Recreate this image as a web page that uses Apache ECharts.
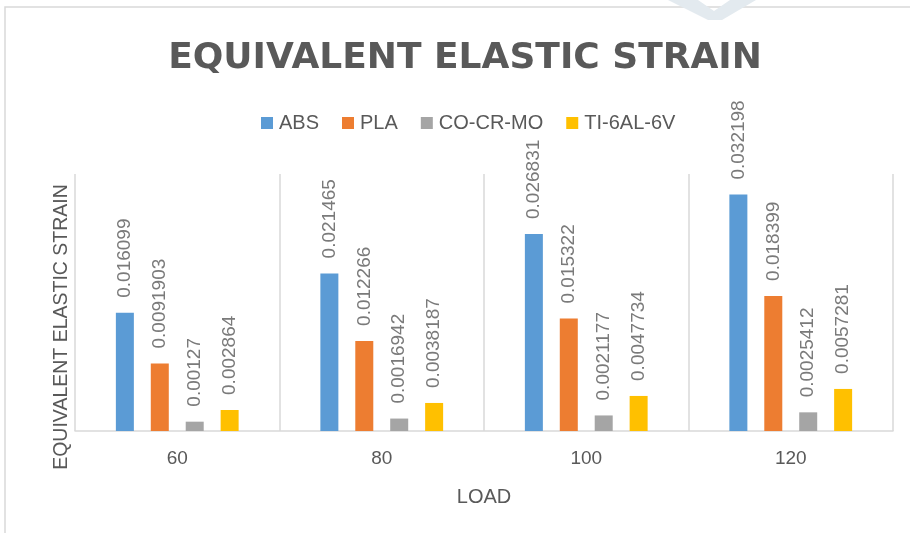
<!DOCTYPE html>
<html>
<head>
<meta charset="utf-8">
<title>Equivalent Elastic Strain</title>
<script src="https://cdn.jsdelivr.net/npm/echarts@6/dist/echarts.min.js"></script>
<style>
  html, body { margin: 0; padding: 0; background: #ffffff; }
  #chart { width: 910px; height: 533px; }
</style>
</head>
<body>
<div id="chart"></div>
<script>
// Load cases (x axis) and strain results per material
const loads = ['60', '80', '100', '120'];
const absStrain = [0.016099, 0.021465, 0.026831, 0.032198];
const plaStrain = [0.0091903, 0.012266, 0.015322, 0.018399];
const coCrMoStrain = [0.00127, 0.0016942, 0.0021177, 0.0025412];
const tiAlVStrain = [0.002864, 0.0038187, 0.0047734, 0.0057281];
const seriesNames = ['ABS', 'PLA', 'CO-CR-MO', 'TI-6AL-6V'];
const seriesColors = ['#5b9bd5', '#ed7d31', '#a5a5a5', '#ffc000'];

const textGray = '#595959';
const lineGray = '#d9d9d9';

const chart = echarts.init(document.getElementById('chart'));

function makeSeries(name, values, color) {
  return {
    name: name,
    type: 'bar',
    data: values,
    barWidth: 18,
    barGap: '94%',
    barCategoryGap: '40%',
    itemStyle: { color: color },
    label: {
      show: true,
      position: 'top',
      rotate: 90,
      align: 'left',
      verticalAlign: 'middle',
      distance: 15,
      color: '#7a7a7a',
      fontFamily: 'Liberation Sans',
      fontSize: 19,
      formatter: p => String(p.value)
    }
  };
}

chart.setOption({
  animation: false,
  backgroundColor: '#ffffff',
  title: {
    text: 'EQUIVALENT ELASTIC STRAIN',
    left: 460,
    top: 36,
    textAlign: 'center',
    textStyle: {
      color: textGray,
      fontFamily: 'DejaVu Sans',
      fontWeight: 'bold',
      fontSize: 36
    }
  },
  legend: {
    data: seriesNames,
    left: 256,
    top: 108,
    itemWidth: 12,
    itemHeight: 12,
    itemGap: 23,
    icon: 'rect',
    textStyle: {
      color: textGray,
      fontFamily: 'Liberation Sans',
      fontSize: 20,
      padding: [0, 0, 0, 1]
    }
  },
  grid: {
    left: 75,
    right: 17,
    top: 174,
    bottom: 102,
    containLabel: false
  },
  xAxis: {
    type: 'category',
    data: loads,
    name: 'LOAD',
    nameLocation: 'middle',
    nameGap: 56,
    nameTextStyle: {
      color: textGray,
      fontFamily: 'Liberation Sans',
      fontSize: 20
    },
    axisLine: { show: true, lineStyle: { color: lineGray, width: 1.5 } },
    axisTick: { show: false },
    splitLine: { show: true, lineStyle: { color: lineGray, width: 1.5 } },
    axisLabel: {
      color: textGray,
      fontFamily: 'Liberation Sans',
      fontSize: 19,
      margin: 18
    }
  },
  yAxis: {
    type: 'value',
    min: 0,
    max: 0.035,
    axisLine: { show: false },
    axisTick: { show: false },
    axisLabel: { show: false },
    splitLine: { show: false }
  },
  graphic: [
    {
      type: 'polyline',
      silent: true,
      shape: { points: [[5, 533], [5, 7], [910, 7]] },
      style: { stroke: lineGray, lineWidth: 1.5, fill: null }
    },
    {
      type: 'polygon',
      silent: true,
      shape: { points: [[668, 0], [698, 0], [714, 11], [730, 0], [756, 0], [722, 20], [708, 20]] },
      style: { fill: '#e3eaef' }
    },
    {
      type: 'text',
      silent: true,
      x: 62,
      y: 327,
      rotation: Math.PI / 2,
      style: {
        text: 'EQUIVALENT ELASTIC STRAIN',
        fill: textGray,
        font: '19.5px "Liberation Sans"',
        textAlign: 'center',
        textVerticalAlign: 'middle'
      }
    }
  ],
  series: [
    makeSeries(seriesNames[0], absStrain, seriesColors[0]),
    makeSeries(seriesNames[1], plaStrain, seriesColors[1]),
    makeSeries(seriesNames[2], coCrMoStrain, seriesColors[2]),
    makeSeries(seriesNames[3], tiAlVStrain, seriesColors[3])
  ]
});
</script>
</body>
</html>
